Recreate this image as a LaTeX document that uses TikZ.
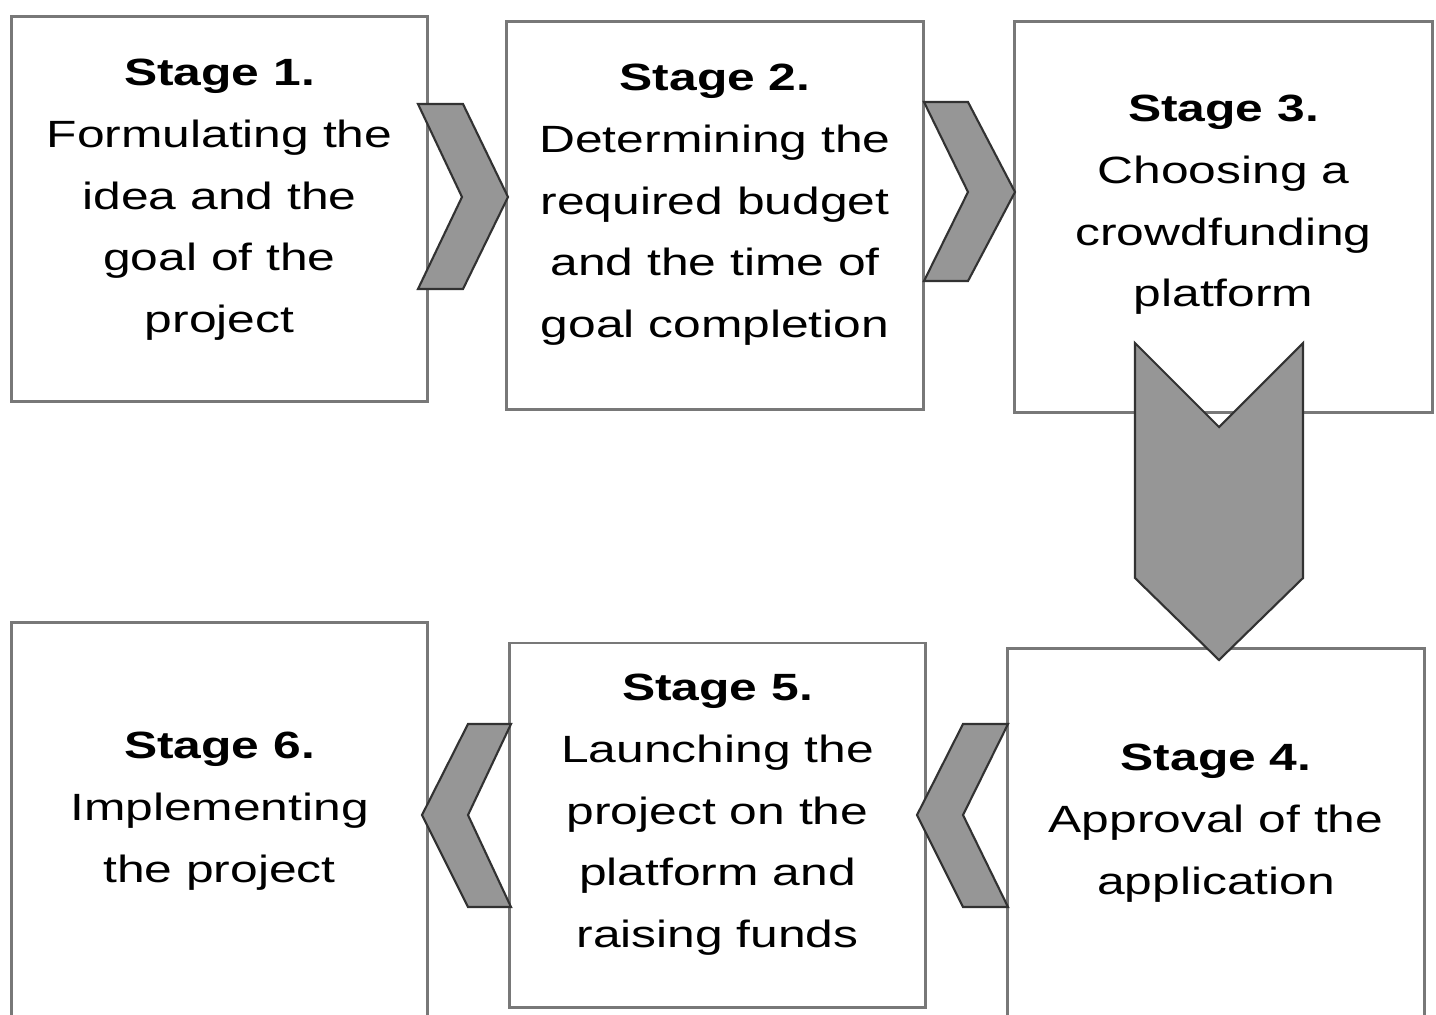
\documentclass[tikz,border=0pt]{standalone}
\usepackage{fontspec}
\setmainfont{Liberation Sans}[FakeStretch=1.31]
\usepackage{tikz}
\definecolor{boxgray}{RGB}{120,120,120}
\definecolor{chevfill}{RGB}{150,150,150}
\definecolor{chevline}{RGB}{50,50,50}

\begin{document}
\begin{tikzpicture}[x=0.01cm,y=-0.01cm,
    stagebox/.style={draw=boxgray,line width=0.8pt,fill=white,inner sep=0pt},
    stagetext/.style={anchor=north,inner sep=0pt,align=center,
      font={\fontsize{10.8pt}{17.6pt}\selectfont}},
    chevron/.style={draw=chevline,fill=chevfill,line width=0.6pt,line join=miter}]
  \clip (0,0) rectangle (1436,1014);
  % boxes
  \node[stagebox,minimum width=4.15cm,minimum height=3.84cm] (s1) at (219.5,209) {};
  \node[stagebox,minimum width=4.16cm,minimum height=3.87cm] (s2) at (715,215.5) {};
  \node[stagebox,minimum width=4.17cm,minimum height=3.90cm] (s3) at (1223.5,217) {};
  \node[stagebox,minimum width=4.16cm,minimum height=3.91cm] (s4) at (1216,844.5) {};
  \node[stagebox,minimum width=4.15cm,minimum height=3.64cm] (s5) at (717.5,825) {};
  \node[stagebox,minimum width=4.15cm,minimum height=4.17cm] (s6) at (219.5,831.5) {};
  % texts
  \node[stagetext] (t1) at (s1.center |- 0,58) {\textbf{Stage 1.}\\Formulating the\\idea and the\\goal of the\\project};
  \node[stagetext] (t2) at (s2.center |- 0,63) {\textbf{Stage 2.}\\Determining the\\required budget\\and the time of\\goal completion};
  \node[stagetext] (t3) at (s3.center |- 0,94) {\textbf{Stage 3.}\\Choosing a\\crowdfunding\\platform};
  \node[stagetext] (t4) at (s4.center |- 0,743) {\textbf{Stage 4.}\\Approval of the\\application};
  \node[stagetext] (t5) at (s5.center |- 0,673) {\textbf{Stage 5.}\\Launching the\\project on the\\platform and\\raising funds};
  \node[stagetext] (t6) at (s6.center |- 0,731) {\textbf{Stage 6.}\\Implementing\\the project};
  % chevrons
  \draw[chevron] (418,104) -- (463,104) -- (508,197) -- (463,289) -- (418,289) -- (462,197) -- cycle;
  \draw[chevron] (924,102) -- (968,102) -- (1015,192) -- (968,281) -- (924,281) -- (968,192) -- cycle;
  \draw[chevron] (1135,343) -- (1219,427) -- (1303,343) -- (1303,578) -- (1219,660) -- (1135,578) -- cycle;
  \draw[chevron] (1008,724) -- (963,724) -- (917,815) -- (963,907) -- (1008,907) -- (963,815) -- cycle;
  \draw[chevron] (511,724) -- (468,724) -- (422,815) -- (468,907) -- (511,907) -- (468,815) -- cycle;
\end{tikzpicture}
\end{document}
